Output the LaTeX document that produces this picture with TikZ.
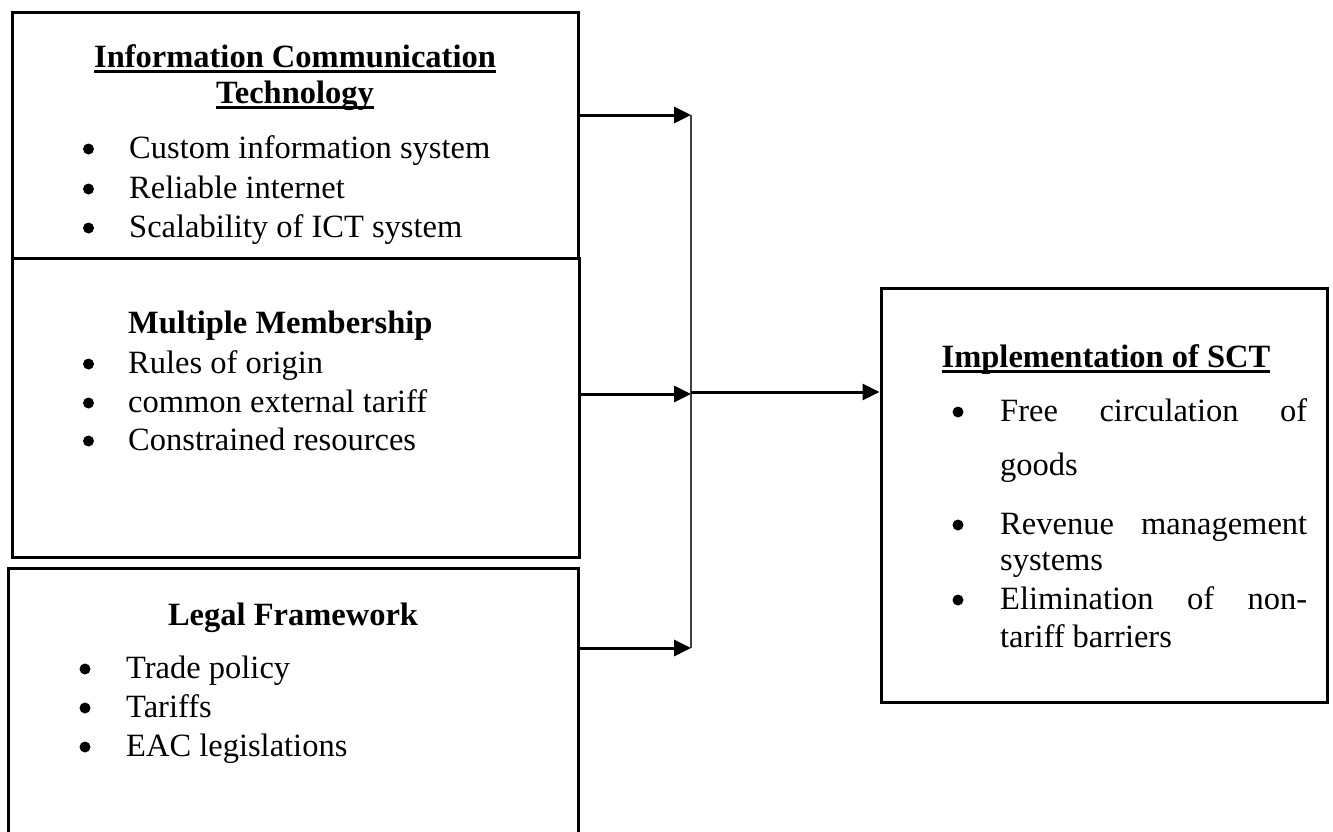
\documentclass[tikz,border=0pt]{standalone}
\usepackage{fontspec}
\setmainfont{Liberation Serif}
\usetikzlibrary{arrows.meta}

% heavy underline for the box titles
\newcommand{\heavyul}[1]{\setbox0\hbox{#1}\rlap{\rule[-6pt]{\wd0}{2.8pt}}\box0}

\begin{document}
\begin{tikzpicture}[x=1pt, y=-1pt,
    font=\fontsize{32.5pt}{39pt}\selectfont,
    panel/.style={draw, line width=3pt, inner sep=0pt},
    flow/.style={line width=3pt, -{Triangle[length=17pt,width=16pt]}},
    txt/.style={anchor=base west, inner sep=0pt},
    dot/.style={circle, fill, inner sep=0pt, minimum size=11pt, yshift=9pt},
    head/.style={anchor=base, inner sep=0pt, font=\fontsize{32.5pt}{39pt}\selectfont\bfseries}]

    % Fix the page size and cut the last box at the bottom
    \useasboundingbox (0,0) rectangle (1333,831);
    \clip (0,0) rectangle (1333,831);

    % Draw the boxes
    \node[panel, minimum width=566pt, minimum height=246pt] (ict) at (295,135) {};
    \node[panel, minimum width=567pt, minimum height=299pt] (mm) at (295.5,407.5) {};
    \node[panel, minimum width=570pt, minimum height=282pt] (legal) at (293,709) {};
    \node[panel, minimum width=446pt, minimum height=414pt] (sct) at (1104,495) {};

    % Information Communication Technology
    \node[head] (icthead) at (295,67) {\heavyul{Information Communication}};
    \node[head] (icthead2) at (295,103) {\heavyul{Technology}};
    \node[dot] at (88.5,158) {};
    \node[txt] (ict1) at (129,158) {Custom information system};
    \node[dot] at (88.5,198) {};
    \node[txt] (ict2) at (129,198) {Reliable internet};
    \node[dot] at (88.5,237) {};
    \node[txt] (ict3) at (129,237) {Scalability of ICT system};

    % Multiple Membership
    \node[head, anchor=base west] (mmhead) at (128,333) {Multiple Membership};
    \node[dot] at (88.5,373) {};
    \node[txt] (mm1) at (128,373) {Rules of origin};
    \node[dot] at (88.5,412) {};
    \node[txt] (mm2) at (128,412) {common external tariff};
    \node[dot] at (88.5,450) {};
    \node[txt] (mm3) at (128,450) {Constrained resources};

    % Legal Framework
    \node[head] (legalhead) at (293,625) {Legal Framework};
    \node[dot] at (85,678) {};
    \node[txt] (legal1) at (126,678) {Trade policy};
    \node[dot] at (85,717) {};
    \node[txt] (legal2) at (126,717) {Tariffs};
    \node[dot] at (85,756) {};
    \node[txt] (legal3) at (126,756) {EAC legislations};

    % Implementation of SCT (justified lines)
    \node[head] (scthead) at (1106,367) {\heavyul{Implementation of SCT}};
    \node[dot] at (958,421) {};
    \node[txt] (sct1) at (1000,421) {\makebox[307pt][s]{Free circulation of}};
    \node[txt] (sct1b) at (1000,475) {goods};
    \node[dot] at (958,534) {};
    \node[txt] (sct2) at (1000,534) {\makebox[307pt][s]{Revenue management}};
    \node[txt] (sct2b) at (1000,570) {systems};
    \node[dot] at (958,609) {};
    \node[txt] (sct3) at (1000,609) {\makebox[307pt][s]{Elimination of non-}};
    \node[txt] (sct3b) at (1000,647) {tariff barriers};

    % Junction points on the collecting line
    \coordinate (jn1) at (691,115);
    \coordinate (jn2) at (691,394);
    \coordinate (jn3) at (691,648);
    \coordinate (jnout) at (691,392);

    % Draw the connectors
    \draw[flow] (ict.east |- jn1) -- (jn1);
    \draw[flow] (mm.east |- jn2) -- (jn2);
    \draw[flow] (legal.east |- jn3) -- (jn3);
    \draw[line width=1.6pt, black!75] (jn1) -- (jn3);
    \draw[flow] (jnout) -- (sct.west |- jnout);

\end{tikzpicture}
\end{document}
